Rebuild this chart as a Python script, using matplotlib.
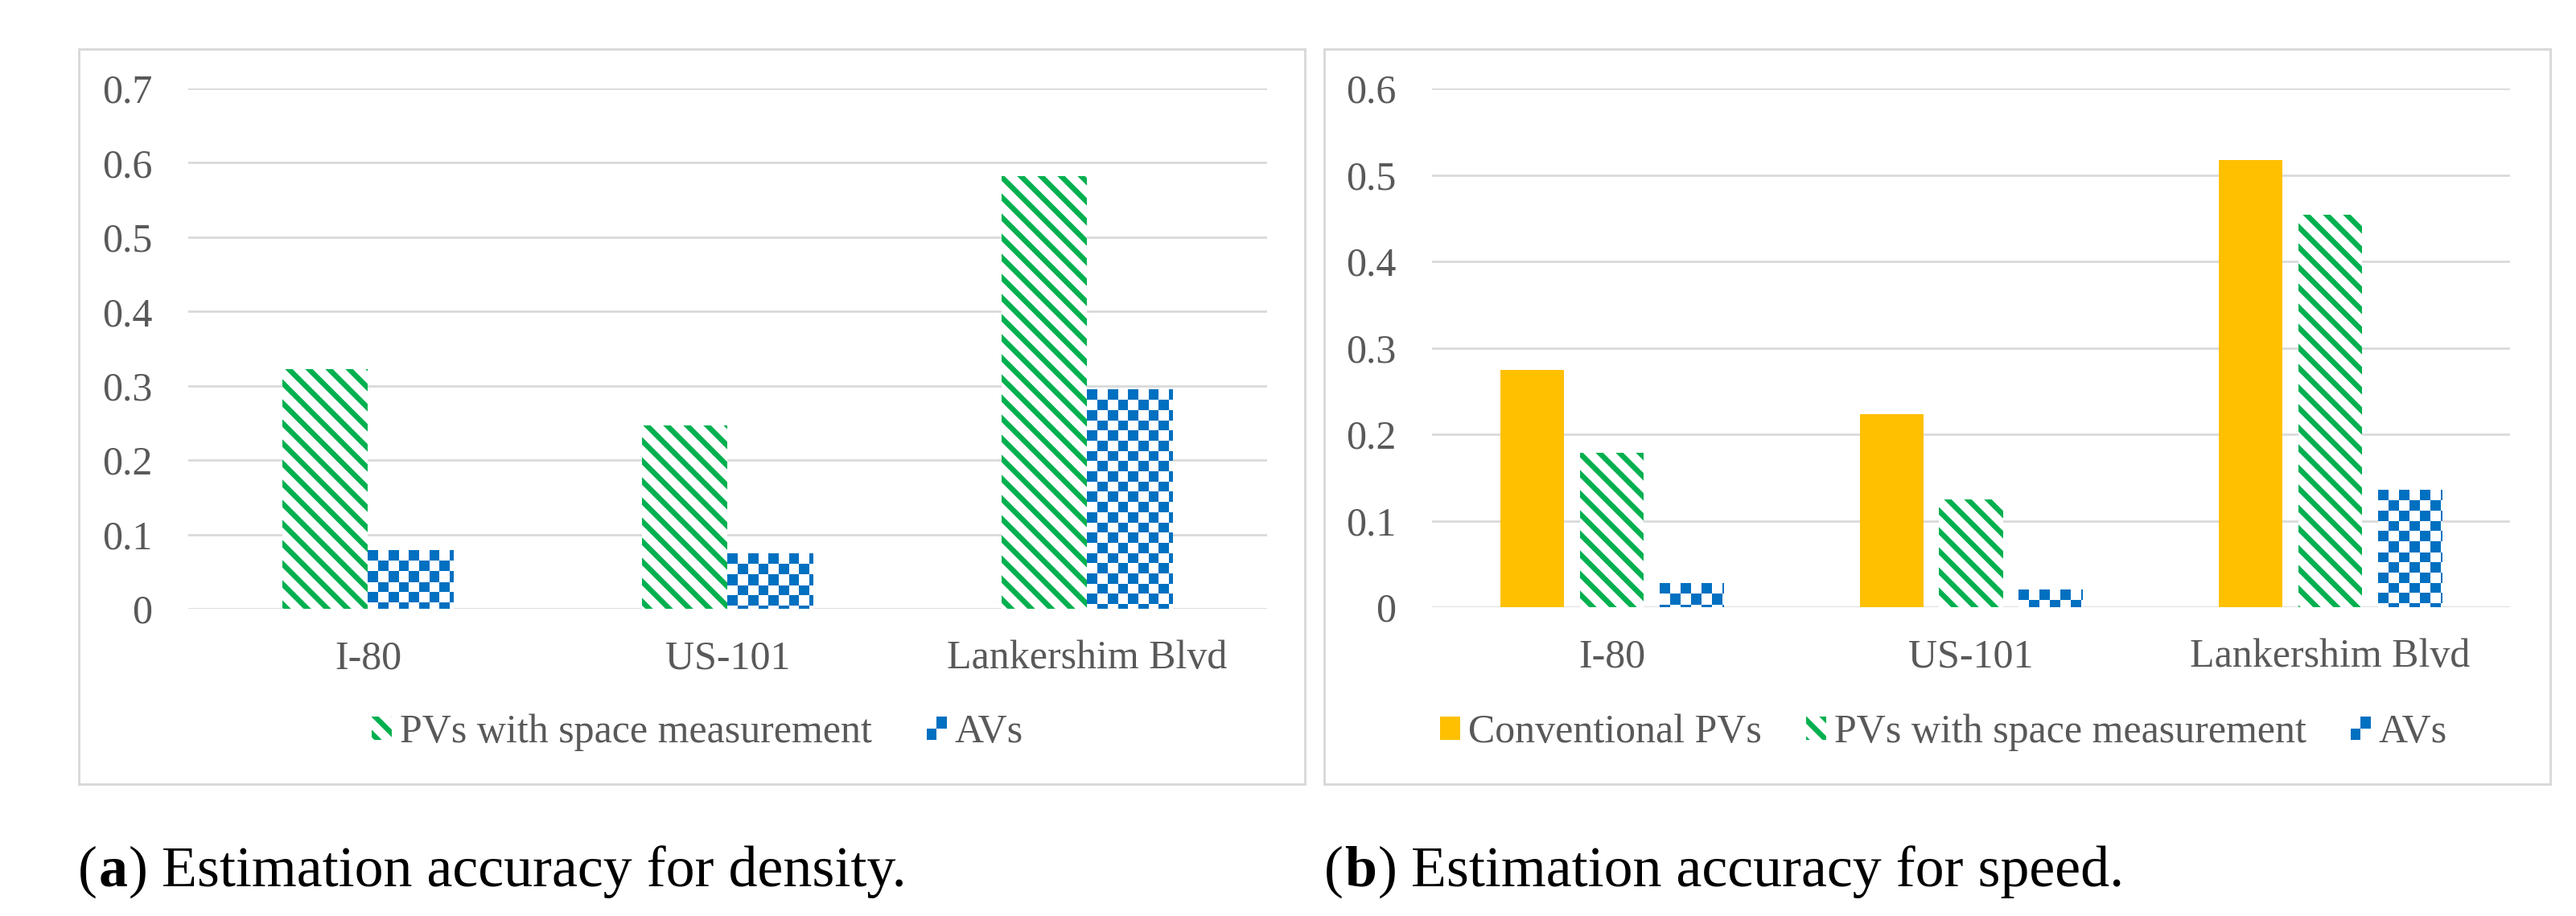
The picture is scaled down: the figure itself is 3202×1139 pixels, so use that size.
import numpy as np
import matplotlib
matplotlib.use('Agg')
from matplotlib import pyplot as plt
from matplotlib.patches import Rectangle, Patch
from matplotlib.legend_handler import HandlerBase
from matplotlib.colors import to_rgb

# data
categories = ['I-80', 'US-101', 'Lankershim Blvd']
density_space_pv = [0.322, 0.247, 0.582]
density_av = [0.078, 0.074, 0.295]
speed_conv_pv = [0.274, 0.223, 0.517]
speed_space_pv = [0.179, 0.125, 0.454]
speed_av = [0.027, 0.020, 0.135]
density_ticks = [0, 0.1, 0.2, 0.3, 0.4, 0.5, 0.6, 0.7]
density_tick_labels = ['0', '0.1', '0.2', '0.3', '0.4', '0.5', '0.6', '0.7']
speed_ticks = [0, 0.1, 0.2, 0.3, 0.4, 0.5, 0.6]
speed_tick_labels = ['0', '0.1', '0.2', '0.3', '0.4', '0.5', '0.6']

GREEN = '#00B050'
BLUE = '#0070C0'
YELLOW = '#FFC000'
GRID = '#D9D9D9'
TEXT = '#595959'
DPI = 150
W, H = 3203, 1139
CELL = 12.7  # checkerboard cell, px

plt.rcParams['font.family'] = ['Liberation Serif', 'DejaVu Serif']
plt.rcParams['hatch.linewidth'] = 3.2


class HandlerChecker(HandlerBase):
    def create_artists(self, legend, orig_handle, xdescent, ydescent, width, height, fontsize, trans):
        out = []
        cw, ch = width / 2, height / 2
        for i in range(2):
            for j in range(2):
                c = BLUE if (i + j) % 2 == 0 else 'white'
                out.append(Rectangle((-xdescent + i * cw, -ydescent + j * ch), cw, ch,
                                     facecolor=c, linewidth=0, transform=trans))
        return out


def checker(ax, bars):
    # Excel style small checkerboard fill, drawn as an image clipped to each bar
    for bar in bars:
        x0, y0 = bar.get_x(), bar.get_y()
        x1, y1 = x0 + bar.get_width(), y0 + bar.get_height()
        (px0, py0), (px1, py1) = ax.transData.transform([(x0, y0), (x1, y1)])
        w = max(int(round(px1 - px0)), 1)
        h = max(int(round(py1 - py0)), 1)
        cols = (np.arange(w) // CELL).astype(int)
        rows = (np.arange(h) // CELL).astype(int)
        mask = (rows[:, None] + cols[None, :]) % 2 == 0
        img = np.ones((h, w, 3))
        img[mask] = to_rgb(BLUE)
        ax.imshow(img, extent=(x0, x1, y0, y1), aspect='auto', interpolation='nearest', zorder=3)


def style(ax, ticks, labels, ymax):
    x = np.arange(len(categories))
    ax.set_xlim(-0.5, len(categories) - 0.5)
    ax.set_ylim(0, ymax)
    ax.set_xticks(x)
    ax.set_xticklabels(categories)
    ax.set_yticks(ticks)
    ax.set_yticklabels(labels)
    for s in ax.spines.values():
        s.set_visible(False)
    ax.grid(axis='y', color=GRID, linewidth=1.3)
    ax.set_axisbelow(True)
    ax.tick_params(axis='both', length=0, labelsize=24, colors=TEXT)
    ax.tick_params(axis='y', pad=21.5)
    ax.tick_params(axis='x', pad=18.5)


def caption(x, y, letter, rest):
    renderer = fig.canvas.get_renderer()
    for s, weight in [('(', 'normal'), (letter, 'bold'), (')', 'normal')]:
        t = fig.text(x, y, s, fontsize=34.5, fontweight=weight, va='baseline', ha='left', color='black')
        x = t.get_window_extent(renderer).x1 / W + 1.5 / W
    fig.text(x + 16 / W, y, rest, fontsize=34.5, va='baseline', ha='left', color='black')


fig = plt.figure(figsize=(W / DPI, H / DPI), dpi=DPI)

# panel frames
for bx in [98, 1646]:
    fig.patches.append(Rectangle((bx / W, 164 / H), 1524 / W, 914 / H, transform=fig.transFigure,
                                 fill=False, edgecolor=GRID, linewidth=1.4))

x = np.arange(len(categories))

# (a) density
ax1 = fig.add_axes([234 / W, 382 / H, 1341 / W, 647 / H])
style(ax1, density_ticks, density_tick_labels, 0.7)
bw = 0.239
ax1.bar(x - bw / 2, density_space_pv, bw, facecolor='white', edgecolor=GREEN, hatch='\\\\', linewidth=0, zorder=2)
av1 = ax1.bar(x + bw / 2, density_av, bw, facecolor='white', linewidth=0, zorder=2)
checker(ax1, av1)
ax1.set_xlim(-0.5, len(categories) - 0.5)
ax1.set_ylim(0, 0.7)

green_h = Patch(facecolor='white', edgecolor=GREEN, hatch='\\\\', linewidth=0)
blue_h = Patch(facecolor=BLUE, linewidth=0)
yellow_h = Patch(facecolor=YELLOW, linewidth=0)

ax1.legend([green_h, blue_h], ['PVs with space measurement', 'AVs'], loc='center',
           bbox_to_anchor=(867 / W, 1 - 911 / H), bbox_transform=fig.transFigure, ncol=2,
           frameon=False, fontsize=24, handlelength=0.5, handleheight=0.5, handletextpad=0.2,
           columnspacing=1.35, labelcolor=TEXT, handler_map={blue_h: HandlerChecker()})

# (b) speed
ax2 = fig.add_axes([1780 / W, 384 / H, 1340 / W, 645 / H])
style(ax2, speed_ticks, speed_tick_labels, 0.6)
bw2 = 0.177
off = 0.2215
ax2.bar(x - off, speed_conv_pv, bw2, facecolor=YELLOW, linewidth=0, zorder=2)
ax2.bar(x, speed_space_pv, bw2, facecolor='white', edgecolor=GREEN, hatch='\\\\', linewidth=0, zorder=2)
av2 = ax2.bar(x + off, speed_av, bw2, facecolor='white', linewidth=0, zorder=2)
checker(ax2, av2)
ax2.set_xlim(-0.5, len(categories) - 0.5)
ax2.set_ylim(0, 0.6)

ax2.legend([yellow_h, green_h, blue_h], ['Conventional PVs', 'PVs with space measurement', 'AVs'],
           loc='center', bbox_to_anchor=(2416 / W, 1 - 911 / H), bbox_transform=fig.transFigure,
           ncol=3, frameon=False, fontsize=24, handlelength=0.5, handleheight=0.5,
           handletextpad=0.2, columnspacing=1.1, labelcolor=TEXT, handler_map={blue_h: HandlerChecker()})

caption(97 / W, 37 / H, 'a', 'Estimation accuracy for density.')
caption(1646 / W, 37 / H, 'b', 'Estimation accuracy for speed.')

fig.savefig('out.png', dpi=DPI, facecolor='white')
